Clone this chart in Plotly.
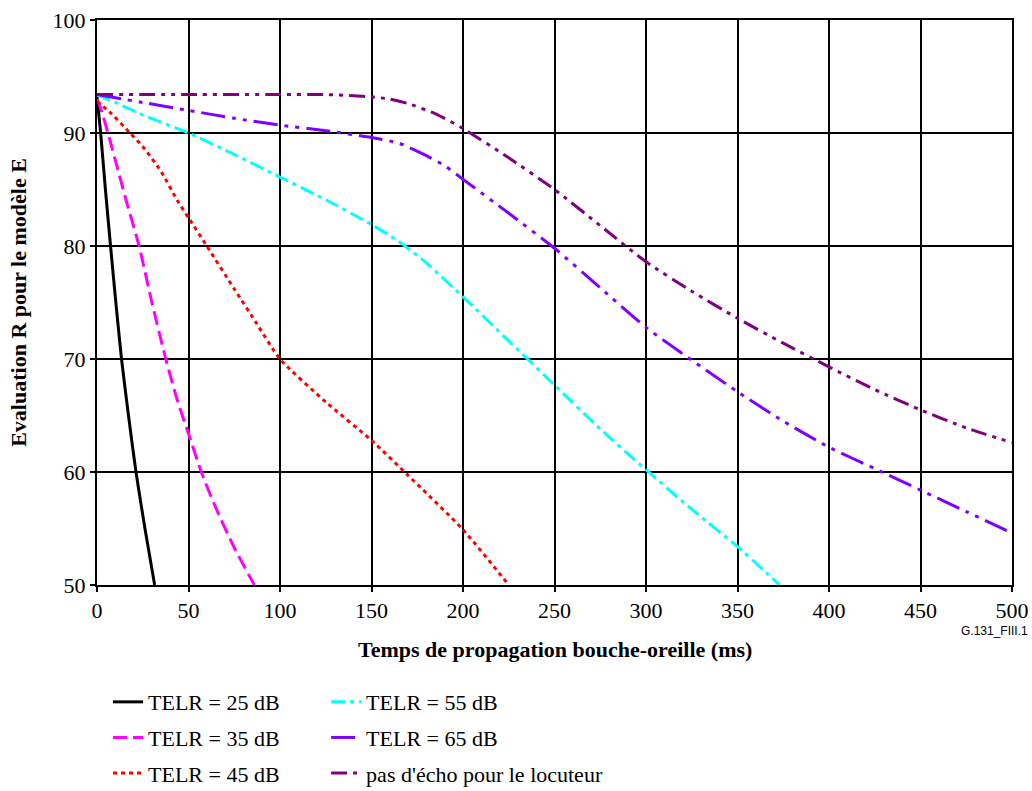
import plotly.graph_objects as go

# ---- data ----
names = ["TELR = 25 dB", "TELR = 35 dB", "TELR = 45 dB",
         "TELR = 55 dB", "TELR = 65 dB", "pas d'écho pour le locuteur"]

x25 = [0, 2, 4.6, 7.4, 10.3, 13.4, 17.2, 21.3, 26.2, 31.5]
y25 = [93.2, 90, 85, 80, 75, 70, 65, 60, 55, 50]

x35 = [0, 2, 6, 11, 16, 23, 30, 37.6, 44, 50, 57, 65, 75, 86]
y35 = [93, 92.2, 90, 87, 84, 80, 75, 70, 66.3, 63.4, 60, 56.8, 53.3, 50]

x45 = [0, 8, 18, 25, 35, 44, 50, 60, 75, 87, 100, 125, 150, 170, 200, 225]
y45 = [92.8, 91.7, 90, 88.8, 86.6, 84, 82.5, 80, 76.2, 73.2, 70, 66.2, 62.8, 59.7, 54.9, 50]

x55 = [0, 10, 25, 50, 75, 100, 125, 150, 165, 180, 200, 225, 250, 275, 300, 325, 350, 373]
y55 = [93.4, 92.7, 91.6, 90, 88.1, 86.1, 84.1, 81.9, 80.4, 78.5, 75.5, 71.6, 67.7, 63.8, 60.2, 56.7, 53.4, 50]

x65 = [0, 25, 50, 75, 100, 125, 150, 165, 180, 190, 200, 225, 250, 275, 300, 325, 350, 375, 400, 425, 450, 475, 500]
y65 = [93.4, 92.7, 92.0, 91.3, 90.7, 90.2, 89.6, 89.1, 88.0, 87.1, 85.9, 82.9, 79.8, 76.3, 72.8, 69.9, 67.1, 64.5, 62.2, 60.3, 58.4, 56.5, 54.6]

xne = [0, 50, 100, 125, 140, 150, 160, 170, 185, 200, 225, 250, 275, 300, 325, 350, 375, 400, 425, 450, 475, 500]
yne = [93.4, 93.4, 93.4, 93.4, 93.3, 93.2, 93.0, 92.6, 91.7, 90.4, 87.8, 85.0, 81.8, 78.6, 76.0, 73.6, 71.4, 69.3, 67.3, 65.5, 63.9, 62.6]

xs = [x25, x35, x45, x55, x65, xne]
ys = [y25, y35, y45, y55, y65, yne]
colors = ["#000000", "#FF00FF", "#FF0000", "#00FFFF", "#8000FF", "#800080"]
dashes = ["solid", "14px,6px", "4px,4px", "14px,5px,4px,5px",
          "24px,7px,4px,7px,4px,7px", "16px,6px,4px,6px,4px,6px"]
legends = ["legend", "legend", "legend", "legend2", "legend2", "legend2"]

x_ticks = list(range(0, 501, 50))
y_ticks = list(range(50, 101, 10))

FONT = "Liberation Serif, Times New Roman, serif"

fig = go.Figure()
for i in range(6):
    fig.add_trace(go.Scatter(
        x=xs[i], y=ys[i], mode="lines", name=names[i],
        line=dict(color=colors[i], width=3, dash=dashes[i], shape="spline", smoothing=0.6),
        legend=legends[i], legendgroup=names[i],
    ))

axis_common = dict(
    showline=True, linecolor="black", linewidth=2, mirror=True,
    showgrid=True, gridcolor="black", gridwidth=2,
    ticks="outside", ticklen=5, tickcolor="black", tickwidth=2,
    tickfont=dict(family=FONT, size=22, color="black"),
    zeroline=False, fixedrange=True, automargin=False,
)

fig.update_xaxes(range=[0, 500], tickvals=x_ticks, **axis_common)
fig.update_yaxes(range=[50, 100], tickvals=y_ticks, **axis_common)

leg_common = dict(
    font=dict(family=FONT, size=22, color="black"),
    bgcolor="rgba(0,0,0,0)", borderwidth=0,
    orientation="v", xanchor="left", yanchor="top",
    xref="container", yref="container",
    tracegroupgap=4, traceorder="grouped",
)

fig.update_layout(
    width=1032, height=791,
    margin=dict(l=97, r=20, t=20, b=206, autoexpand=False),
    paper_bgcolor="white", plot_bgcolor="white",
    showlegend=True,
    legend=dict(x=0.1047, y=0.139, **leg_common),
    legend2=dict(x=0.316, y=0.139, **leg_common),
    annotations=[
        dict(text="<b>Temps de propagation bouche-oreille (ms)</b>", xref="paper", yref="paper",
             x=0.5, y=-0.115, xanchor="center", yanchor="middle", showarrow=False,
             font=dict(family=FONT, size=22, color="black")),
        dict(text="<b>Evaluation R pour le modèle E</b>", xref="paper", yref="paper",
             x=-0.086, y=0.5, xanchor="center", yanchor="middle", showarrow=False, textangle=-90,
             font=dict(family=FONT, size=22, color="black")),
        dict(text="G.131_FIII.1", xref="paper", yref="paper",
             x=1.0197, y=-0.0814, xanchor="right", yanchor="middle", showarrow=False,
             font=dict(family="Liberation Sans", size=12, color="black")),
    ],
)

fig.write_html("out.html", config={"displayModeBar": False},
               post_script="document.body.style.margin='0px';")
